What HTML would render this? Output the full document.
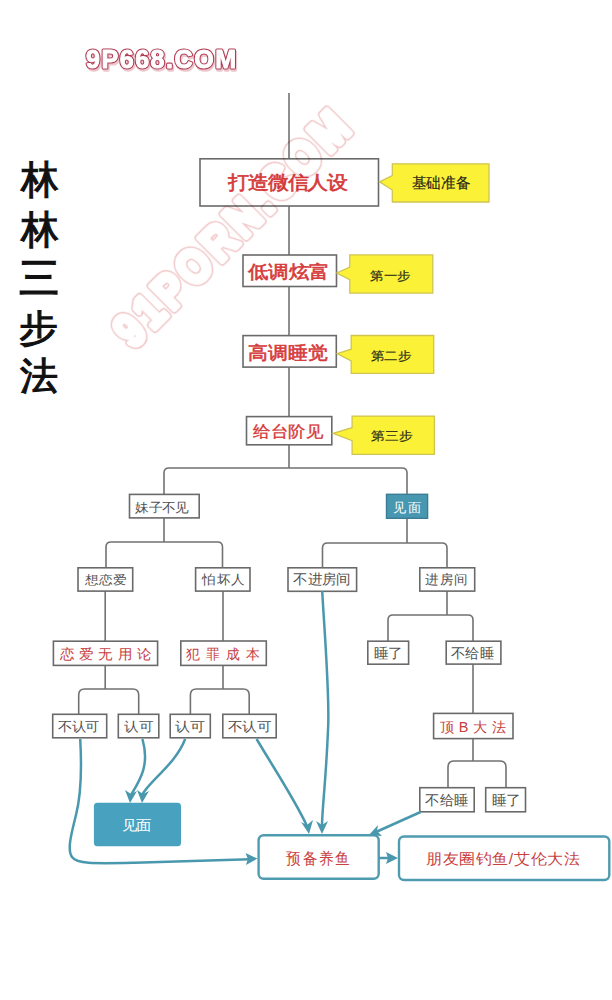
<!DOCTYPE html>
<html><head><meta charset="utf-8">
<style>
html,body{margin:0;padding:0;background:#fff;width:612px;height:1000px;overflow:hidden}
svg{display:block;font-family:"Liberation Sans",sans-serif}
</style></head><body>
<svg width="612" height="1000" viewBox="0 0 612 1000">
<g fill="none" stroke="#727272" stroke-width="1.6">
<path d="M289 93 V468"/>
<path d="M164 494 V473 Q164 468 169 468 H402 Q407 468 407 473 V494"/>
<path d="M164 518 V542 M106 568 V547 Q106 542 111 542 H217.5 Q222.5 542 222.5 547 V568"/>
<path d="M407 518 V543 M322.5 568 V548 Q322.5 543 327.5 543 H442 Q447 543 447 548 V568"/>
<path d="M105.2 591 V642 M223 591 V642"/>
<path d="M447 591 V615 M388 641 V620 Q388 615 393 615 H468 Q473 615 473 620 V641"/>
<path d="M105.2 666 V689 M78.7 714 V695 Q78.7 689 84.7 689 H132.7 Q138.7 689 138.7 695 V714"/>
<path d="M223 666 V689 M190.4 714 V695 Q190.4 689 196.4 689 H243.2 Q249.2 689 249.2 695 V714"/>
<path d="M473 664 V713"/>
<path d="M473 739 V761 M448 787 V767 Q448 761 454 761 H500 Q506 761 506 767 V787"/>
</g>
<g fill="#fff" stroke="#6a6a6a" stroke-width="1.6">
<rect x="200" y="158.8" width="178.5" height="47.2"/>
<rect x="243" y="255" width="93.5" height="31.5"/>
<rect x="243" y="335.6" width="93.3" height="31.5"/>
<rect x="246.5" y="416.6" width="85.3" height="28.2"/>
<rect x="129.5" y="494.4" width="69.7" height="23.5"/>
<rect x="78" y="567.8" width="54.7" height="23.3"/>
<rect x="195.6" y="567.8" width="54.4" height="23.3"/>
<rect x="288" y="567.8" width="68.6" height="23.5"/>
<rect x="419.8" y="567.8" width="54.9" height="23.3"/>
<rect x="53.4" y="641.2" width="104.2" height="24.2"/>
<rect x="180.8" y="641" width="85.5" height="24.4"/>
<rect x="367.8" y="641.2" width="40.8" height="23"/>
<rect x="446.2" y="641.2" width="54.7" height="22.9"/>
<rect x="52.7" y="714.3" width="54" height="23.5"/>
<rect x="118.3" y="714.3" width="40.5" height="23.5"/>
<rect x="170.2" y="714.3" width="40.1" height="23.5"/>
<rect x="222.8" y="714.3" width="53.4" height="23.5"/>
<rect x="433.6" y="713.4" width="79.4" height="25.2"/>
<rect x="419.8" y="787.7" width="54.4" height="24.1"/>
<rect x="485.7" y="787.7" width="39.8" height="24.1"/>
</g>
<g fill="#fbf238" stroke="#cfc452" stroke-width="1.3">
<path d="M392.3 163.8 H489 V202 H392.3 V190 L379.6 181.9 L392.3 175.5 Z"/>
<path d="M349.8 254.9 H432.8 V293.1 H349.8 V279.7 L336.8 273 L349.8 267 Z"/>
<path d="M351.2 335.5 H433.7 V373.3 H351.2 V360.9 L337.2 353.7 L351.2 349.2 Z"/>
<path d="M352.1 416.1 H434.4 V454.3 H352.1 V440.7 L333.1 433.3 L352.1 427.7 Z"/>
</g>
<rect x="386.5" y="494.3" width="41.1" height="24" fill="#4797b1" stroke="#3b7c94" stroke-width="1.4"/>
<rect x="93.9" y="802.7" width="87.1" height="43.6" rx="3.5" fill="#48a2bf"/>
<rect x="258.6" y="835.2" width="120.1" height="43.6" rx="5" fill="#fff" stroke="#4f9bb0" stroke-width="2.4"/>
<rect x="399" y="836.5" width="210.3" height="43.5" rx="5" fill="#fff" stroke="#4f9bb0" stroke-width="2.4"/>
<g fill="none" stroke="#4a98ae" stroke-width="2.5">
<path d="M80.2 739 C82 770 81 795 76 815 C71 835 67 850 72 857 C77 864 92 863.6 135 862.8 L250 859.2"/>
<path d="M142.4 739 C150 765 140 780 131 795"/>
<path d="M185.2 739 C175 765 150 780 142 795"/>
<path d="M256.6 739 C275 770 295 800 307 826"/>
<path d="M322.2 591 C325 640 330 700 328 730 C326 780 322 810 322 826"/>
<path d="M420.6 812 L376 832"/>
<path d="M379 858 H390"/>
</g>
<g fill="#4a98ae">
<path d="M257.5 858.6 L245.6 853 L247.8 859 L246 865 Z"/>
<path d="M130 803 L125 790 L131 794 L137 791 Z"/>
<path d="M142 803 L137 790 L143 794 L149 791 Z"/>
<path d="M309 834 L301 822 L307 825 L313 820 Z"/>
<path d="M322 834 L316 821 L322 825 L328 821 Z"/>
<path d="M369 835 L378 825 L377 831 L382 836 Z"/>
<path d="M398 858 L386 852 L388 858 L386 864 Z"/>
</g>

<g>
<text transform="matrix(0.8750 0 0 0.9071 20.57 192.76)" style="font-size:43.30px;font-weight:400;fill:#111;stroke:#111;stroke-width:1.3px">林</text>
<text transform="matrix(0.8750 0 0 0.9048 20.57 242.57)" style="font-size:43.18px;font-weight:400;fill:#111;stroke:#111;stroke-width:1.3px">林</text>
<text transform="matrix(1.0278 0 0 1.0455 19.17 291.86)" style="font-size:39.20px;font-weight:400;fill:#111;stroke:#111;stroke-width:1.3px">三</text>
<text transform="matrix(0.9146 0 0 0.8721 19.29 340.60)" style="font-size:42.61px;font-weight:400;fill:#111;stroke:#111;stroke-width:1.3px">步</text>
<text transform="matrix(0.8929 0 0 0.8929 20.20 389.34)" style="font-size:42.61px;font-weight:400;fill:#111;stroke:#111;stroke-width:1.3px">法</text>
<text transform="matrix(0.9720 0 0 0.8810 227.80 188.86)" style="font-size:21.02px;font-weight:400;fill:#d63a3a;stroke:#d63a3a;stroke-width:0.7px">打造微信人设</text>
<text transform="matrix(0.9902 0 0 0.8714 248.30 278.19)" style="font-size:20.80px;font-weight:400;fill:#d63a3a;stroke:#d63a3a;stroke-width:0.7px">低调炫富</text>
<text transform="matrix(0.9518 0 0 0.8619 248.05 358.51)" style="font-size:20.57px;font-weight:400;fill:#d63a3a;stroke:#d63a3a;stroke-width:0.7px">高调睡觉</text>
<text transform="matrix(0.9368 0 0 0.8632 253.00 436.81)" style="font-size:18.64px;font-weight:400;fill:#d63a3a;stroke:#d63a3a;stroke-width:0.4px">给台阶见</text>
<text transform="matrix(0.9328 0 0 0.9643 411.57 188.07)" style="font-size:15.34px;font-weight:400;fill:#2a2a18;stroke:#2a2a18;stroke-width:0.2px">基础准备</text>
<text transform="matrix(0.9732 0 0 0.8714 370.03 280.26)" style="font-size:13.86px;font-weight:400;fill:#2a2a18;stroke:#2a2a18;stroke-width:0.2px">第一步</text>
<text transform="matrix(0.9780 0 0 0.8714 370.72 360.36)" style="font-size:13.86px;font-weight:400;fill:#2a2a18;stroke:#2a2a18;stroke-width:0.2px">第二步</text>
<text transform="matrix(0.9854 0 0 0.8643 371.21 439.97)" style="font-size:13.75px;font-weight:400;fill:#2a2a18;stroke:#2a2a18;stroke-width:0.2px">第三步</text>
<text transform="matrix(0.9873 0 0 0.9385 135.31 511.82)" style="font-size:13.86px;font-weight:400;fill:#505050">妹子不见</text>
<text transform="matrix(0.9654 0 0 0.9538 393.43 512.19)" style="font-size:14.09px;font-weight:400;fill:#fff">见面</text>
<text transform="matrix(0.9756 0 0 0.8571 84.90 583.99)" style="font-size:13.64px;font-weight:400;fill:#505050">想恋爱</text>
<text transform="matrix(1.0024 0 0 0.9538 202.40 584.19)" style="font-size:14.09px;font-weight:400;fill:#505050">怕坏人</text>
<text transform="matrix(1.0130 0 0 0.9769 293.29 584.15)" style="font-size:14.43px;font-weight:400;fill:#505050">不进房间</text>
<text transform="matrix(0.9925 0 0 0.9538 425.31 584.19)" style="font-size:14.09px;font-weight:400;fill:#505050">进房间</text>
<text transform="matrix(0.9537 0 0 0.9214 59.80 658.66)" style="font-size:14.66px;font-weight:400;fill:#c63e3e;letter-spacing:0.36em">恋爱无用论</text>
<text transform="matrix(0.9218 0 0 0.9357 185.78 659.13)" style="font-size:14.89px;font-weight:400;fill:#c63e3e;letter-spacing:0.45em">犯罪成本</text>
<text transform="matrix(1.0913 0 0 1.0455 373.61 658.45)" style="font-size:13.07px;font-weight:400;fill:#505050">睡了</text>
<text transform="matrix(1.0919 0 0 1.0636 451.31 658.24)" style="font-size:13.30px;font-weight:400;fill:#505050">不给睡</text>
<text transform="matrix(1.0622 0 0 0.9667 58.04 731.07)" style="font-size:13.18px;font-weight:400;fill:#505050">不认可</text>
<text transform="matrix(1.0875 0 0 0.9667 123.91 731.07)" style="font-size:13.18px;font-weight:400;fill:#505050">认可</text>
<text transform="matrix(1.1250 0 0 0.9667 175.38 731.07)" style="font-size:13.18px;font-weight:400;fill:#505050">认可</text>
<text transform="matrix(1.0946 0 0 0.9667 227.51 731.07)" style="font-size:13.18px;font-weight:400;fill:#505050">不认可</text>
<text transform="matrix(0.9588 0 0 0.9500 440.00 732.10)" style="font-size:15.11px;font-weight:400;fill:#c63e3e;letter-spacing:0.02em">顶 B 大 法</text>
<text transform="matrix(1.0784 0 0 1.0455 425.42 804.95)" style="font-size:13.07px;font-weight:400;fill:#505050">不给睡</text>
<text transform="matrix(1.1043 0 0 1.0455 491.60 804.95)" style="font-size:13.07px;font-weight:400;fill:#505050">睡了</text>
<text transform="matrix(1.0214 0 0 0.9286 121.58 830.34)" style="font-size:14.77px;font-weight:400;fill:#fff">见面</text>
<text transform="matrix(0.8466 0 0 0.9312 286.35 863.74)" style="font-size:16.93px;font-weight:400;fill:#c94040;letter-spacing:0.14em">预备养鱼</text>
<text transform="matrix(0.9259 0 0 0.8706 425.97 864.09)" style="font-size:16.82px;font-weight:400;fill:#c94040;letter-spacing:0.07em">朋友圈钓鱼/艾伦大法</text>
</g>
<g style="mix-blend-mode:multiply">
<g transform="translate(86 68)" style="font-weight:bold;font-size:25px;stroke-linejoin:round">
<text x="1.2" y="1.5" textLength="150" style="fill:#ecc8ce;stroke:#ecc8ce;stroke-width:3.4">9P668.COM</text>
<text x="0" y="0" textLength="150" style="fill:#b03c54;stroke:#b03c54;stroke-width:3.2">9P668.COM</text>
<text x="0" y="0" textLength="150" style="fill:#fff;stroke:#fff;stroke-width:1.0">9P668.COM</text>
</g>
<g transform="translate(231 228.5) rotate(-45) scale(0.84 1)" style="font-weight:bold;font-size:48px;stroke-linejoin:round;text-anchor:middle">
<text x="0" y="17" textLength="369" style="fill:#f0c4c6;stroke:#f0c4c6;stroke-width:8.5">91PORN.COM</text>
<text x="0" y="17" textLength="369" style="fill:#fff;stroke:#fff;stroke-width:5.5">91PORN.COM</text>
</g>
</g>

</svg>
</body></html>
